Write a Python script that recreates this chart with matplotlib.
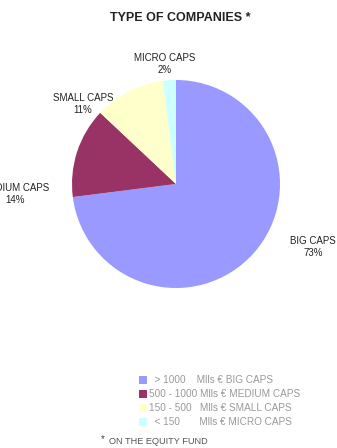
import matplotlib.pyplot as plt
from matplotlib.patches import Rectangle

plt.rcParams['font.family'] = ['Liberation Sans', 'DejaVu Sans']

# data
categories = ["BIG CAPS", "MEDIUM CAPS", "SMALL CAPS", "MICRO CAPS"]
shares = [73, 14, 11, 2]
colors = ["#9999FF", "#993366", "#FFFFCC", "#CCFFFF"]
legend_ranges = ["  > 1000    ", "500 - 1000 ", "150 - 500   ", "  < 150       "]
# label centres in pixels (x, y from top)
label_pos = [(313, 247), (15, 194), (83, 104), (165, 64)]

W, H = 337, 448
fig = plt.figure(figsize=(W / 100, H / 100), dpi=100)

# pie axes: centre (176,184), radius 104 px
cx, cy, r = 176, 184, 104
ax = fig.add_axes([(cx - r) / W, (H - cy - r) / H, 2 * r / W, 2 * r / H])
ax.pie(shares, colors=colors, startangle=90, counterclock=False, radius=1,
       wedgeprops=dict(linewidth=0))
ax.set_xlim(-1, 1)
ax.set_ylim(-1, 1)
ax.set_aspect('equal')
ax.axis('off')

fig.text(180 / W, 1 - 18 / H, "TYPE OF COMPANIES *", ha='center', va='center',
         fontsize=9, fontweight='bold', color='#222222')

for name, val, (x, y) in zip(categories, shares, label_pos):
    fig.text(x / W, 1 - y / H, f"{name}\n{val}%", ha='center', va='center',
             fontsize=7, color='#222222', linespacing=1.25)

# legend
for i, (rng, name, c) in enumerate(zip(legend_ranges, categories, colors)):
    y = 380 + i * 14
    fig.patches.append(Rectangle((139 / W, 1 - (y + 4) / H), 8 / W, 8 / H,
                                 transform=fig.transFigure, facecolor=c,
                                 edgecolor='none'))
    fig.text(149 / W, 1 - y / H, f"{rng}Mlls € {name}", ha='left', va='center',
             fontsize=7.2, color='#999999')

fig.text(101 / W, 1 - 439 / H, "*", ha='left', va='center', fontsize=7,
         color='#444444')
fig.text(109 / W, 1 - 441 / H, "ON THE EQUITY FUND", ha='left', va='center',
         fontsize=6.6, color='#555555')

fig.savefig("out.png", dpi=100)
